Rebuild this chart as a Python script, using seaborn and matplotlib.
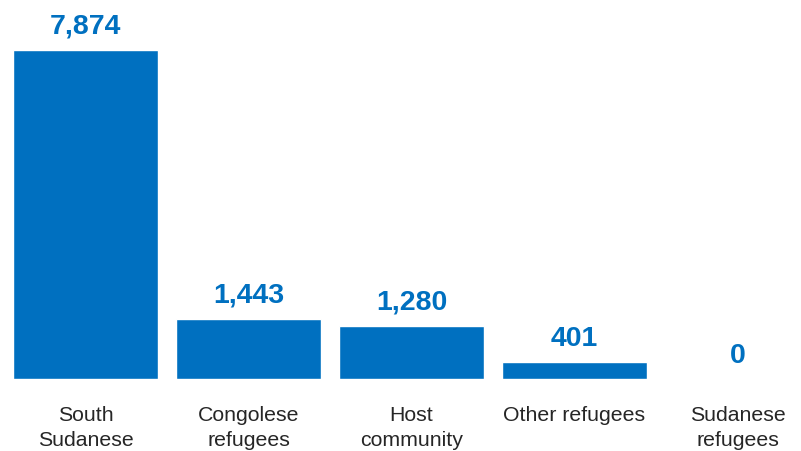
import matplotlib
matplotlib.use("Agg")
import matplotlib.pyplot as plt
import seaborn as sns
import pandas as pd

categories = ["South\nSudanese", "Congolese\nrefugees", "Host\ncommunity", "Other refugees", "Sudanese\nrefugees"]
values = [7874, 1443, 1280, 401, 0]

df = pd.DataFrame({"category": categories, "value": values})

sns.set_style("white")
plt.rcParams["font.family"] = ["Liberation Sans", "DejaVu Sans"]

fig = plt.figure(figsize=(8.01, 4.52), dpi=100)
ax = fig.add_axes([0, (452 - 380) / 452, 1, 380 / 452])

sns.barplot(data=df, x="category", y="value", color="#0070C0", saturation=1,
            width=0.89, ax=ax)

ax.set_xlim(-0.525, 4.39)
ax.set_ylim(0, 7874 * 380 / 329)

for c in ax.containers:
    ax.bar_label(c, labels=[f"{v:,}" for v in values], padding=8,
                 fontsize=20.5, fontweight="bold", color="#0070C0")

ax.set_xlabel("")
ax.set_ylabel("")
ax.set_yticks([])
ax.tick_params(axis="x", length=0, pad=19, labelsize=15.3, labelcolor="#262626")
for t in ax.get_xticklabels():
    t.set_linespacing(1.35)
for s in ax.spines.values():
    s.set_visible(False)

fig.savefig("out.png", dpi=100)
